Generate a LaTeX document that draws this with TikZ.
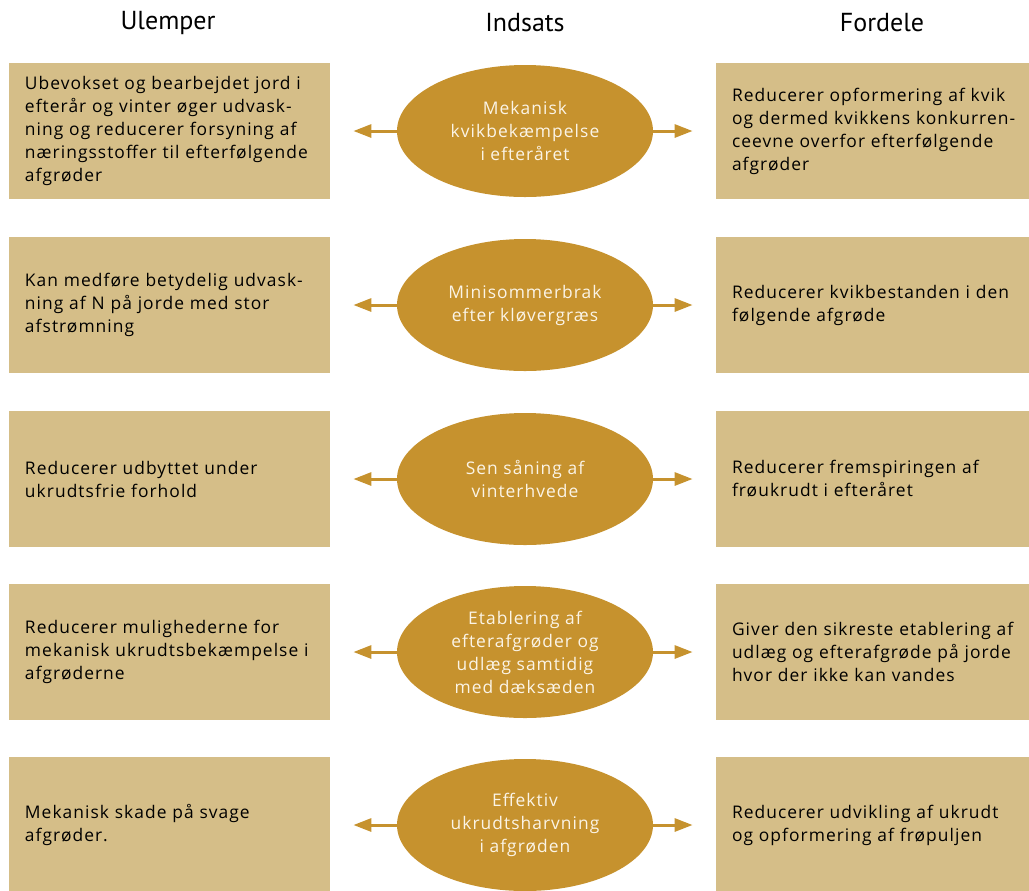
\documentclass[tikz,border=0pt]{standalone}
\usepackage{fontspec}
\setmainfont[LetterSpace=6]{Open Sans}
\newfontfamily\headfont{PT Sans}
\usetikzlibrary{positioning}
\usetikzlibrary{shapes}
\usetikzlibrary{arrows.meta}
\definecolor{boxtan}{HTML}{D5BE88}
\definecolor{ovalgold}{HTML}{C6922E}
\definecolor{ovaltext}{HTML}{FBF4E6}
\tikzset{
    every picture/.append style={
        >={Triangle[length=9pt,width=6.5pt]}
    }
}

\begin{document}
\begin{tikzpicture}[x=0.5pt, y=-0.5pt,
    head/.style={font=\headfont\fontsize{13}{15}\selectfont},
    box/.style={fill=boxtan, minimum width=160.5pt, minimum height=68pt, inner xsep=8pt, inner ysep=0pt, text width=144.5pt, align=left, font=\fontsize{8.7}{11.5}\selectfont},
    oval/.style={ellipse, fill=ovalgold, minimum width=128pt, minimum height=66pt, inner sep=0pt, align=center, text=ovaltext, font=\fontsize{8.7}{11.5}\selectfont},
    link/.style={draw=ovalgold, line width=1.5pt, ->, shorten >=11.5pt}]
    \useasboundingbox (0,0) rectangle (1029,890);
		\node[head] (hU) at (168,23) {Ulemper};
		\node[head] (hI) at (525,23) {Indsats};
		\node[head] (hF) at (882,23) {Fordele};
		
		\node[box] (u1) at (169.5,131) {Ubevokset og bearbejdet jord i\\efterår og vinter øger udvask-\\ning og reducerer forsyning af\\næringsstoffer til efterfølgende\\afgrøder};
		\node[oval] (i1) at (525,131) {Mekanisk\\kvikbekæmpelse\\i efteråret};
		\node[box] (f1) at (876.5,131) {Reducerer opformering af kvik\\og dermed kvikkens konkurren-\\ceevne overfor efterfølgende\\afgrøder};
		
		\node[box] (u2) at (169.5,305) {Kan medføre betydelig udvask-\\ning af N på jorde med stor\\afstrømning};
		\node[oval] (i2) at (525,305) {Minisommerbrak\\efter kløvergræs};
		\node[box] (f2) at (876.5,305) {Reducerer kvikbestanden i den\\følgende afgrøde};
		
		\node[box] (u3) at (169.5,479) {Reducerer udbyttet under\\ukrudtsfrie forhold};
		\node[oval] (i3) at (525,479) {Sen såning af\\vinterhvede};
		\node[box] (f3) at (876.5,479) {Reducerer fremspiringen af\\frøukrudt i efteråret};
		
		\node[box] (u4) at (169.5,652) {Reducerer mulighederne for\\mekanisk ukrudtsbekæmpelse i\\afgrøderne};
		\node[oval] (i4) at (525,652) {Etablering af\\efterafgrøder og\\udlæg samtidig\\med dæksæden};
		\node[box] (f4) at (876.5,652) {Giver den sikreste etablering af\\udlæg og efterafgrøde på jorde\\hvor der ikke kan vandes};
		
		\node[box] (u5) at (169.5,825) {Mekanisk skade på svage\\afgrøder.};
		\node[oval] (i5) at (525,825) {Effektiv\\ukrudtsharvning\\i afgrøden};
		\node[box] (f5) at (876.5,825) {Reducerer udvikling af ukrudt\\og opformering af frøpuljen};
		
		\foreach \r in {1,...,5} {
		    \path [link] (i\r.west) -- (u\r.east);
		    \path [link] (i\r.east) -- (f\r.west);
		}
\end{tikzpicture}
\end{document}
